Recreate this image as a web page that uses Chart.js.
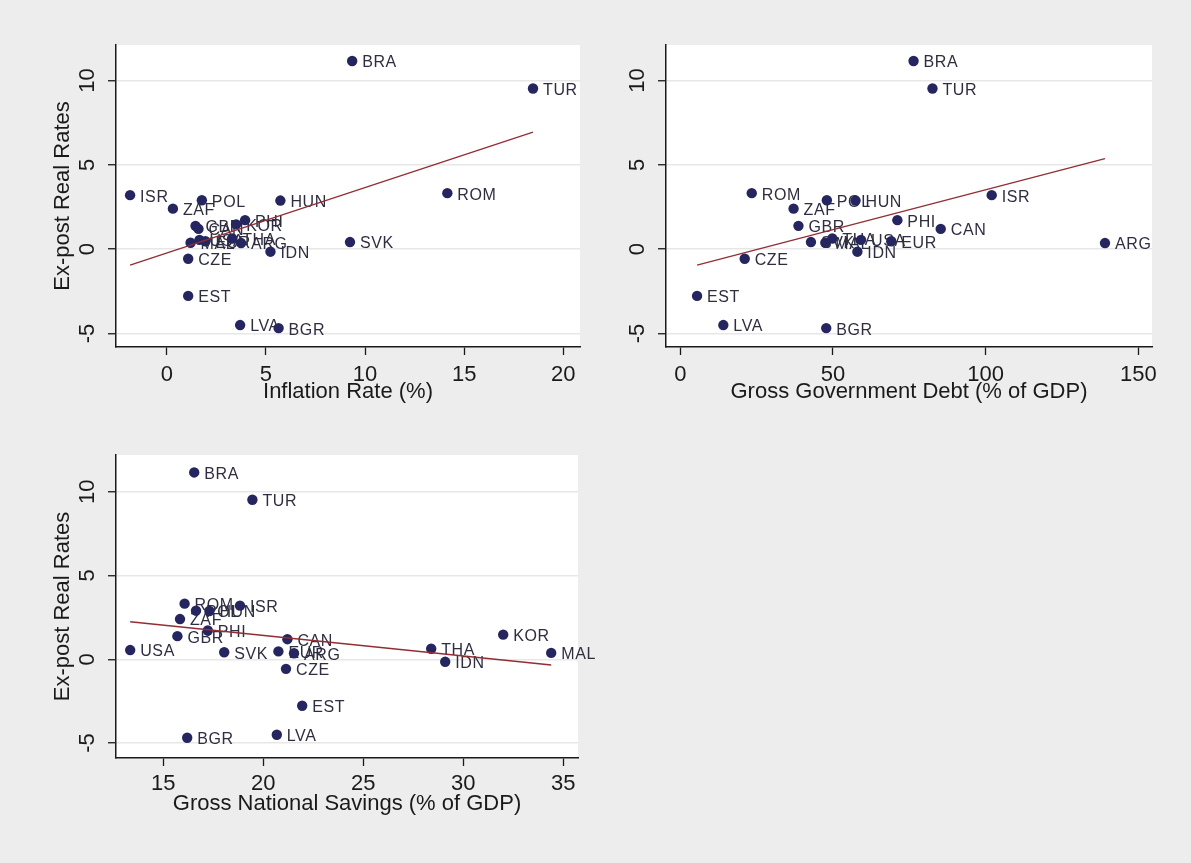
<!DOCTYPE html>
<html>
<head>
<meta charset="utf-8">
<script src="https://cdn.jsdelivr.net/npm/chart.js@4.4.1/dist/chart.umd.min.js"></script>
<style>
  html, body { margin: 0; padding: 0; background: #ededed; }
  body { width: 1191px; height: 863px; position: relative; overflow: hidden; }
  canvas { position: absolute; }
</style>
</head>
<body>
<canvas id="panelInflation" width="595" height="430" style="left:0;top:0"></canvas>
<canvas id="panelDebt" width="596" height="430" style="left:595px;top:0"></canvas>
<canvas id="panelSavings" width="595" height="433" style="left:0;top:430px"></canvas>
<script>
// Country codes and their ex-post real interest rates
const countries = ['BRA','TUR','ROM','POL','HUN','ISR','ZAF','PHI','GBR','USA','SVK','CAN','EUR','ARG','CZE','EST','LVA','BGR','THA','KOR','IDN','MAL'];
const realRates = [11.15, 9.52, 3.32, 2.9, 2.88, 3.2, 2.4, 1.72, 1.38, 0.55, 0.42, 1.2, 0.47, 0.36, -0.57, -2.77, -4.5, -4.68, 0.63, 1.47, -0.15, 0.38];

// Explanatory variables (null = not available for that country)
const inflationRate = [9.35, 18.47, 14.15, 1.77, 5.73, -1.85, 0.31, 3.95, 1.45, 1.65, 9.24, 1.6, 1.95, 3.75, 1.08, 1.08, 3.7, 5.64, 3.3, 3.5, 5.23, 1.2];
const govDebt = [76.4, 82.6, 23.4, 48.0, 57.4, 102.0, 37.1, 71.1, 38.7, 59.2, 42.8, 85.3, 69.1, 139.1, 21.1, 5.5, 14.1, 47.8, 49.8, null, 58.0, 47.5];
const nationalSavings = [16.55, 19.46, 16.07, 16.64, 17.31, 18.84, 15.84, 17.23, 15.71, 13.35, 18.05, 21.21, 20.76, 21.54, 21.14, 21.95, 20.68, 16.2, 28.4, 32.0, 29.1, 34.4];

// Fitted-line end points [x, y]
const inflationFit = [[-1.85, -0.95], [18.47, 6.94]];
const debtFit = [[5.5, -0.95], [139.1, 5.37]];
const savingsFit = [[13.35, 2.24], [34.4, -0.34]];

// Tick values
const inflationTicks = [0, 5, 10, 15, 20];
const debtTicks = [0, 50, 100, 150];
const savingsTicks = [15, 20, 25, 30, 35];
const rateTicks = [-5, 0, 5, 10];

Chart.defaults.font.family = '"Liberation Sans", Arial, sans-serif';

const INK = '#1a1a1a';
const DOT = '#25255f';
const LABEL = '#2e2e40';
const FIT = '#922d35';

const plotBackground = {
  id: 'plotBackground',
  beforeDraw(chart) {
    const { ctx, chartArea: a } = chart;
    ctx.save();
    ctx.fillStyle = '#ffffff';
    ctx.fillRect(a.left, a.top, a.right - a.left, a.bottom - a.top);
    ctx.restore();
  }
};

// Country codes written to the right of each marker, beneath the markers
const markerLabels = {
  id: 'markerLabels',
  beforeDatasetsDraw(chart) {
    const { ctx, scales: { x, y } } = chart;
    const ds = chart.data.datasets.find(d => d.type === 'scatter');
    ctx.save();
    ctx.font = '16px "Liberation Sans", Arial, sans-serif';
    ctx.letterSpacing = '0.6px';
    ctx.fillStyle = LABEL;
    ctx.textAlign = 'left';
    ctx.textBaseline = 'middle';
    ds.data.forEach(p => {
      ctx.fillText(p.code, x.getPixelForValue(p.x) + 10, y.getPixelForValue(p.y) + 2);
    });
    ctx.restore();
  }
};

function makePanel(id, xValues, fit, xTicks, layout) {
  const canvas = document.getElementById(id);
  const W = canvas.width, H = canvas.height;
  const a = layout.area;
  const points = [];
  countries.forEach((c, i) => {
    if (xValues[i] !== null) points.push({ x: xValues[i], y: realRates[i], code: c });
  });
  return new Chart(canvas, {
    type: 'scatter',
    data: {
      datasets: [
        {
          type: 'scatter',
          data: points,
          order: 2,
          pointRadius: 5.2,
          pointHoverRadius: 5.2,
          pointBackgroundColor: DOT,
          pointBorderWidth: 0
        },
        {
          type: 'line',
          data: fit.map(([fx, fy]) => ({ x: fx, y: fy })),
          order: 1,
          borderColor: FIT,
          borderWidth: 1.3,
          pointRadius: 0,
          fill: false
        }
      ]
    },
    options: {
      responsive: false,
      animation: false,
      devicePixelRatio: 1,
      layout: { padding: { left: 0, top: a.top, right: W - a.right, bottom: 0 } },
      plugins: { legend: { display: false }, tooltip: { enabled: false } },
      scales: {
        x: {
          type: 'linear',
          min: layout.xMin,
          max: layout.xMax,
          afterBuildTicks: s => { s.ticks = xTicks.map(v => ({ value: v })); },
          afterFit: s => { s.height = H - a.bottom; },
          grid: { drawOnChartArea: false, drawTicks: true, tickLength: 8, tickColor: INK, tickWidth: 1.3 },
          border: { display: true, color: INK, width: 1.5 },
          ticks: { padding: layout.xTickPad, color: INK, font: { size: 22 }, maxRotation: 0, autoSkip: false },
          title: { display: true, text: layout.xTitle, color: INK, font: { size: 22 }, padding: { top: 0, bottom: layout.xTitlePad } }
        },
        y: {
          type: 'linear',
          min: layout.yMin,
          max: layout.yMax,
          afterBuildTicks: s => { s.ticks = rateTicks.map(v => ({ value: v })); },
          afterFit: s => { s.width = a.left; },
          grid: { color: '#e7e7e7', lineWidth: 1.5, drawTicks: true, tickLength: 8, tickColor: INK, tickWidth: 1.3 },
          border: { display: true, color: INK, width: 1.5 },
          ticks: { minRotation: 90, maxRotation: 90, crossAlign: 'center', padding: 8, color: INK, font: { size: 22 }, autoSkip: false },
          title: { display: !!layout.yTitle, text: layout.yTitle || '', color: INK, font: { size: 22 }, padding: { top: 50, bottom: 0 } }
        }
      }
    },
    plugins: [plotBackground, markerLabels]
  });
}

makePanel('panelInflation', inflationRate, inflationFit, inflationTicks, {
  area: { left: 116, top: 45, right: 580, bottom: 347 },
  xMin: -2.56, xMax: 20.84, yMin: -5.8, yMax: 12.1,
  xTickPad: 6.5, xTitlePad: 25,
  xTitle: 'Inflation Rate (%)', yTitle: 'Ex-post Real Rates'
});

makePanel('panelDebt', govDebt, debtFit, debtTicks, {
  area: { left: 71, top: 45, right: 557, bottom: 347 },
  xMin: -4.68, xMax: 154.5, yMin: -5.8, yMax: 12.1,
  xTickPad: 6.5, xTitlePad: 25,
  xTitle: 'Gross Government Debt (% of GDP)', yTitle: null
});

makePanel('panelSavings', nationalSavings, savingsFit, savingsTicks, {
  area: { left: 116, top: 25, right: 578, bottom: 328 },
  xMin: 12.64, xMax: 35.74, yMin: -5.89, yMax: 12.19,
  xTickPad: 5, xTitlePad: 46,
  xTitle: 'Gross National Savings (% of GDP)', yTitle: 'Ex-post Real Rates'
});
</script>
</body>
</html>
